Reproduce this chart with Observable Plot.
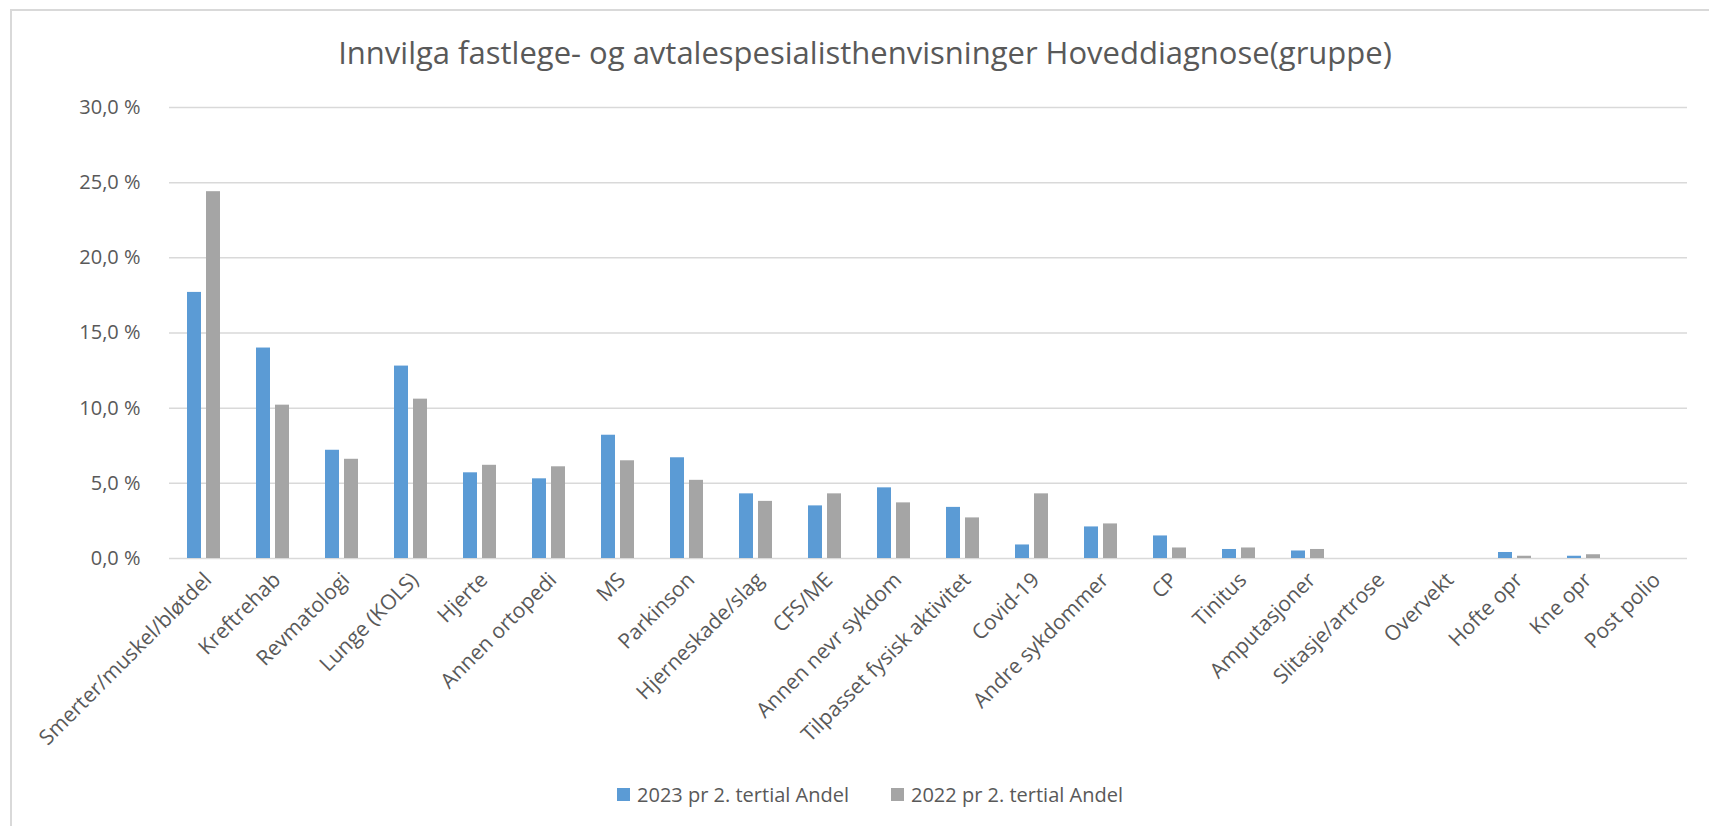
<!DOCTYPE html>
<html>
<head>
<meta charset="utf-8">
<script src="https://cdn.jsdelivr.net/npm/d3@7"></script>
<script src="https://cdn.jsdelivr.net/npm/@observablehq/plot@0.6"></script>
<style>
  html, body { margin: 0; padding: 0; background: #fff; }
  #wrap { position: relative; width: 1709px; height: 826px; overflow: hidden; font-family: "Open Sans", sans-serif; color: #595959; }
  #frame { position: absolute; left: 10px; top: 9px; width: 1750px; height: 900px; border-left: 2px solid #D9D9D9; border-top: 2px solid #D9D9D9; }
  #title { position: absolute; left: 0; width: 1730px; top: 31px; text-align: center; font-size: 31px; white-space: nowrap; }
  #chart { position: absolute; left: 0; top: 0; }
  #legend { position: absolute; left: 0; width: 1740px; top: 781px; display: flex; justify-content: center; font-size: 20px; white-space: nowrap; }
  .item { display: flex; align-items: center; margin: 0 21px; }
  .sw { width: 13px; height: 13px; margin-right: 7px; }
</style>
</head>
<body>
<div id="wrap">
  <div id="frame"></div>
  <div id="chart"></div>
  <div id="title"></div>
  <div id="legend"></div>
</div>
<script>
const title = "Innvilga fastlege- og avtalespesialisthenvisninger Hoveddiagnose(gruppe)";
const categories = ["Smerter/muskel/bløtdel", "Kreftrehab", "Revmatologi", "Lunge (KOLS)", "Hjerte", "Annen ortopedi", "MS", "Parkinson", "Hjerneskade/slag", "CFS/ME", "Annen nevr sykdom", "Tilpasset fysisk aktivitet", "Covid-19", "Andre sykdommer", "CP", "Tinitus", "Amputasjoner", "Slitasje/artrose", "Overvekt", "Hofte opr", "Kne opr", "Post polio"];
const seriesNames = ["2023 pr 2. tertial Andel", "2022 pr 2. tertial Andel"];
const values2023 = [17.7, 14.0, 7.2, 12.8, 5.7, 5.3, 8.2, 6.7, 4.3, 3.5, 4.7, 3.4, 0.9, 2.1, 1.5, 0.6, 0.5, 0.0, 0.0, 0.4, 0.15, 0.0];
const values2022 = [24.4, 10.2, 6.6, 10.6, 6.2, 6.1, 6.5, 5.2, 3.8, 4.3, 3.7, 2.7, 4.3, 2.3, 0.7, 0.7, 0.6, 0.0, 0.0, 0.15, 0.25, 0.0];
const seriesColors = ["#5B9BD5", "#A5A5A5"];
const yTicks = [0, 5, 10, 15, 20, 25, 30];

const data = categories.flatMap((c, i) => [
  {category: c, series: seriesNames[0], value: values2023[i]},
  {category: c, series: seriesNames[1], value: values2022[i]}
]);

const fmt = d => d.toFixed(1).replace(".", ",") + " %";

const chart = Plot.plot({
  width: 1709,
  height: 775,
  marginLeft: 163,
  marginRight: 17,
  marginTop: 107,
  marginBottom: 217,
  style: {fontFamily: "Open Sans, sans-serif", fontSize: "20px", color: "#595959", background: "transparent", overflow: "visible"},
  fx: {domain: categories, paddingInner: 0, paddingOuter: 0, label: null},
  x: {domain: seriesNames, paddingInner: 0.25, paddingOuter: 0.8625, axis: null},
  y: {domain: [0, 30], label: null},
  color: {domain: seriesNames, range: seriesColors},
  marks: [
    Plot.gridY(yTicks, {stroke: "#D9D9D9", strokeOpacity: 1, strokeWidth: 1.5}),
    Plot.axisY(yTicks, {tickSize: 0, tickPadding: 29, tickFormat: fmt, fontSize: 20, label: null}),
    Plot.axisFx({anchor: "bottom", tickSize: 0, tickRotate: -45, tickPadding: 18, dx: 4, fontSize: 21, label: null}),
    Plot.barY(data, {fx: "category", x: "series", y: "value", fill: "series"})
  ]
});
document.getElementById("chart").appendChild(chart);

document.getElementById("title").textContent = title;
const legend = document.getElementById("legend");
seriesNames.forEach((name, i) => {
  const item = document.createElement("div");
  item.className = "item";
  const sw = document.createElement("div");
  sw.className = "sw";
  sw.style.background = seriesColors[i];
  const label = document.createElement("span");
  label.textContent = name;
  item.appendChild(sw);
  item.appendChild(label);
  legend.appendChild(item);
});
</script>
</body>
</html>
